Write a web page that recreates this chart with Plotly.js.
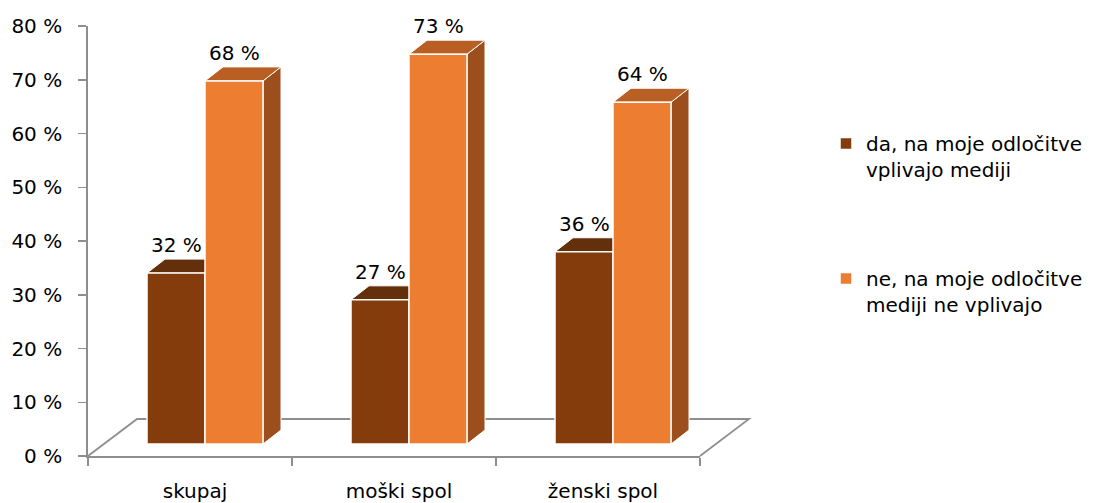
<!DOCTYPE html>
<html><head><meta charset="utf-8">
<script src="https://cdn.plot.ly/plotly-3.0.1.min.js"></script>
<style>html,body{margin:0;padding:0;background:#fff;} #chart{width:1103px;height:503px;}</style>
</head><body><div id="chart"></div>
<script>
// ---- data ----
const categories = ['skupaj', 'moški spol', 'ženski spol'];
const seriesNames = ['da, na moje odločitve<br>vplivajo mediji', 'ne, na moje odločitve<br>mediji ne vplivajo'];
const daValues = [32, 27, 36];
const neValues = [68, 73, 64];
const yTickValues = [0, 10, 20, 30, 40, 50, 60, 70, 80];
const yTickLabels = ['0 %', '10 %', '20 %', '30 %', '40 %', '50 %', '60 %', '70 %', '80 %'];

// ---- geometry (pixels) ----
const W = 1103, H = 503, L = 88, R = 700, T = 26, B = 456;
const plotW = R - L, plotH = B - T;
const yMax = 80;
const catPx = plotW / categories.length;       // px per category
const rowDX = 15, rowDY = 12;                   // bars sit behind the front axis
const barZero = B - rowDY;
const barScale = 5.34;                          // px per % for bar row
const faceDX = 18, faceDY = 14;                 // 3D depth of each bar
const barPx = 58;
const barW = barPx / catPx;
const floorDX = 49, floorDY = 37;

const colors = {
  da: {front: '#843C0C', top: '#64300B', side: '#6A310B'},
  ne: {front: '#ED7D31', top: '#BA5F23', side: '#9C4F1D'}
};
const axisGrey = '#8E8E8E';
const fontFam = '"DejaVu Sans", Verdana, sans-serif';
const fsize = 20;

const idx = categories.map((c, i) => i);
const series = [
  {name: seriesNames[0], values: daValues, offset: -barW, col: colors.da},
  {name: seriesNames[1], values: neValues, offset: 0, col: colors.ne}
];

// y2 / x2 axes for the bar row (shifted back in depth)
const y2Bottom = rowDY / plotH;
const y2Top = (barZero - T) / barScale;
const x2Left = rowDX / plotW;
const x2Right = -0.5 + (plotW - rowDX) / catPx;
const dxD = faceDX / catPx, dyD = faceDY / barScale;

const traces = [{
  type: 'scatter', x: categories, y: categories.map(() => 0), mode: 'markers',
  marker: {opacity: 0}, showlegend: false, hoverinfo: 'skip', xaxis: 'x', yaxis: 'y'
}];
series.forEach((s, k) => {
  traces.push({
    type: 'bar', x: idx, y: s.values, offset: s.offset, width: barW,
    xaxis: 'x2', yaxis: 'y2', name: s.name, legendgroup: 'g' + k,
    marker: {color: s.col.front, line: {color: '#ffffff', width: 1.5}},
    hoverinfo: 'y'
  });
});

const shapes = [];
// floor
shapes.push({
  type: 'path', layer: 'below', xref: 'paper', yref: 'paper',
  path: `M0,0 L${floorDX / plotW},${floorDY / plotH} L${1 + floorDX / plotW},${floorDY / plotH} L1,0`,
  line: {color: axisGrey, width: 1.8}, fillcolor: 'rgba(0,0,0,0)'
});
const annotations = [];
series.forEach((s) => {
  s.values.forEach((v, i) => {
    const left = idx[i] + s.offset, right = left + barW;
    // side face
    shapes.push({
      type: 'path', layer: 'below', xref: 'x2', yref: 'y2',
      path: `M${right},0 L${right},${v} L${right + dxD},${v + dyD} L${right + dxD},${dyD} Z`,
      fillcolor: s.col.side, line: {color: '#ffffff', width: 1}
    });
    // top face
    shapes.push({
      type: 'path', layer: 'below', xref: 'x2', yref: 'y2',
      path: `M${left},${v} L${left + dxD},${v + dyD} L${right + dxD},${v + dyD} L${right},${v} Z`,
      fillcolor: s.col.top, line: {color: '#ffffff', width: 1}
    });
    annotations.push({
      xref: 'x2', yref: 'y2', x: left + barW / 2, y: v, text: v + ' %',
      showarrow: false, yshift: 28, xanchor: 'center', yanchor: 'middle',
      font: {family: fontFam, size: fsize, color: '#000'}
    });
  });
});

const layout = {
  width: W, height: H,
  margin: {l: L, r: W - R, t: T, b: H - B, pad: 0},
  paper_bgcolor: '#ffffff', plot_bgcolor: 'rgba(0,0,0,0)',
  font: {family: fontFam, size: fsize, color: '#000'},
  showlegend: true,
  barmode: 'group',
  xaxis: {
    type: 'category', categoryorder: 'array', categoryarray: categories,
    range: [-0.5, categories.length - 0.5], domain: [0, 1],
    showline: true, linecolor: axisGrey, linewidth: 1.8,
    ticks: 'outside', tickson: 'boundaries', ticklen: 8, tickwidth: 1.5, tickcolor: axisGrey,
    showgrid: false, zeroline: false, ticklabelshift: 5, ticklabelstandoff: 16,
    tickfont: {family: fontFam, size: fsize, color: '#000'}, fixedrange: true
  },
  yaxis: {
    range: [0, yMax], domain: [0, 1], tickmode: 'array', tickvals: yTickValues, ticktext: yTickLabels,
    showline: true, linecolor: axisGrey, linewidth: 1.8,
    ticks: 'outside', ticklen: 8, tickwidth: 1.5, tickcolor: axisGrey,
    showgrid: false, zeroline: false, ticklabelstandoff: 12,
    tickfont: {family: fontFam, size: fsize, color: '#000'}, fixedrange: true
  },
  xaxis2: {
    anchor: 'y2', domain: [x2Left, 1], range: [-0.5, x2Right],
    visible: false, fixedrange: true
  },
  yaxis2: {
    anchor: 'x2', domain: [y2Bottom, 1], range: [0, y2Top],
    visible: false, fixedrange: true
  },
  legend: {
    x: (826 - L) / plotW, xanchor: 'left', y: (B - 124) / plotH, yanchor: 'top',
    traceorder: 'grouped', tracegroupgap: 80, valign: 'top',
    font: {family: fontFam, size: fsize, color: '#000'}, bgcolor: 'rgba(0,0,0,0)'
  },
  shapes: shapes,
  annotations: annotations
};

Plotly.newPlot('chart', traces, layout, {displayModeBar: false, staticPlot: true});
</script>
</body></html>
